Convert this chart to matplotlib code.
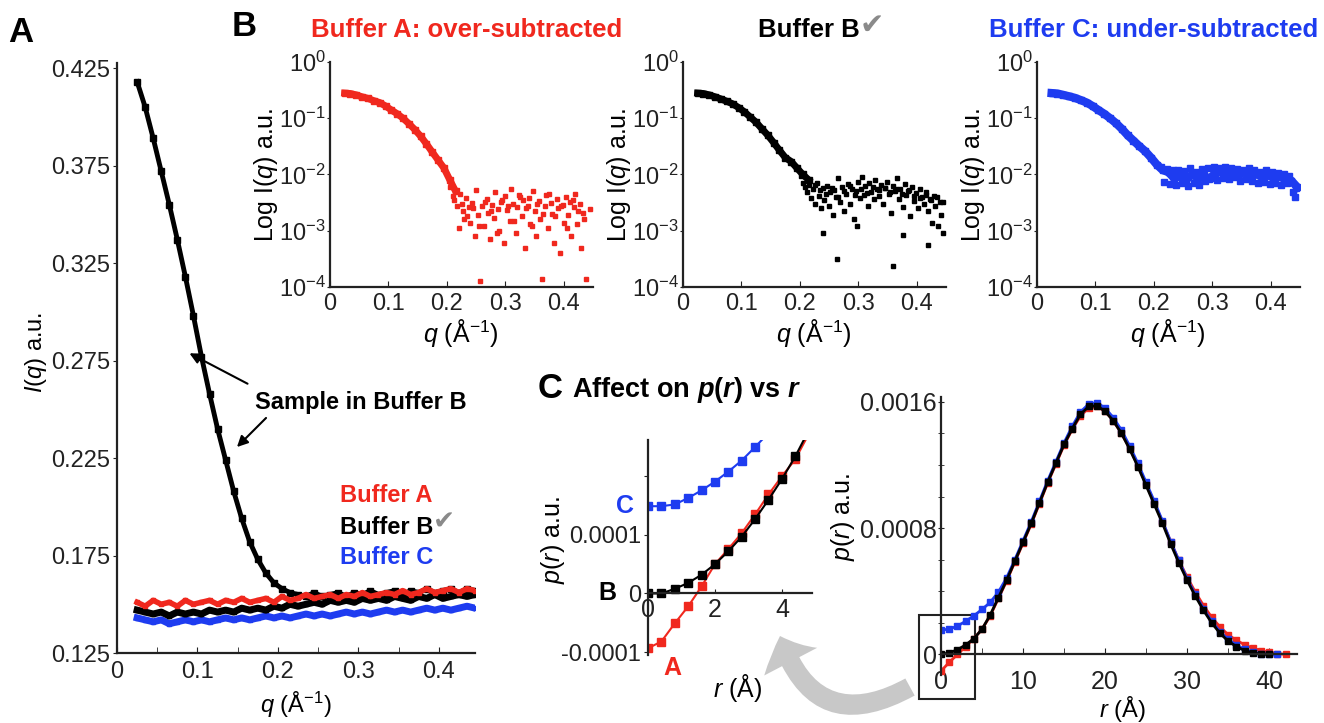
import matplotlib
matplotlib.use("Agg")
import numpy as np
import matplotlib.pyplot as plt
from matplotlib.patches import Rectangle, FancyArrowPatch
from matplotlib.ticker import FuncFormatter, MultipleLocator, NullLocator

W, H = 1324, 723
plt.rcParams['font.family'] = ['Liberation Sans', 'DejaVu Sans']
plt.rcParams['mathtext.fontset'] = 'custom'
plt.rcParams['mathtext.rm'] = 'Liberation Sans'
plt.rcParams['mathtext.it'] = 'Liberation Sans:italic'
plt.rcParams['mathtext.bf'] = 'Liberation Sans:bold'
plt.rcParams['mathtext.bfit'] = 'Liberation Sans:italic:bold'
plt.rcParams['axes.linewidth'] = 1.6
plt.rcParams['axes.edgecolor'] = '#222222'
plt.rcParams['xtick.color'] = '#222222'
plt.rcParams['ytick.color'] = '#222222'

RED = '#f0281e'
BLUE = '#1e3cf0'
GREY = '#8a8a8a'

# ---- data -------------------------------------------------------------
# q grid (1/A) shared by panels A and B
q = [0.025, 0.035, 0.045, 0.055, 0.065, 0.075, 0.085, 0.095, 0.105, 0.115,
     0.125, 0.135, 0.145, 0.155, 0.165, 0.175, 0.185, 0.195, 0.205, 0.215,
     0.225, 0.235, 0.245, 0.255, 0.265, 0.275, 0.285, 0.295, 0.305, 0.315,
     0.325, 0.335, 0.345, 0.355, 0.365, 0.375, 0.385, 0.395, 0.405, 0.415,
     0.425, 0.435, 0.445]

# panel A: raw intensities
sample_raw = [0.418, 0.405, 0.389, 0.372, 0.355, 0.337, 0.318, 0.298, 0.277, 0.258,
              0.240, 0.224, 0.208, 0.194, 0.182, 0.173, 0.166, 0.161, 0.158, 0.156,
              0.155, 0.154, 0.156, 0.154, 0.155, 0.156, 0.154, 0.156, 0.155, 0.157,
              0.155, 0.156, 0.157, 0.155, 0.157, 0.156, 0.158, 0.156, 0.157, 0.158,
              0.156, 0.158, 0.157]
bufA_raw = [0.151, 0.149, 0.152, 0.150, 0.151, 0.149, 0.152, 0.150, 0.151, 0.152,
            0.150, 0.152, 0.151, 0.153, 0.151, 0.152, 0.153, 0.151, 0.154, 0.152,
            0.153, 0.155, 0.153, 0.154, 0.155, 0.153, 0.155, 0.154, 0.156, 0.154,
            0.155, 0.156, 0.155, 0.157, 0.155, 0.156, 0.158, 0.156, 0.157, 0.158,
            0.156, 0.158, 0.157]
bufB_raw = [0.147, 0.146, 0.145, 0.146, 0.144, 0.146, 0.145, 0.146, 0.145, 0.147,
            0.146, 0.147, 0.146, 0.148, 0.147, 0.148, 0.147, 0.149, 0.148, 0.150,
            0.149, 0.150, 0.151, 0.150, 0.152, 0.151, 0.152, 0.151, 0.153, 0.152,
            0.153, 0.152, 0.154, 0.153, 0.152, 0.154, 0.153, 0.155, 0.153, 0.154,
            0.155, 0.154, 0.155]
bufC_raw = [0.143, 0.142, 0.141, 0.142, 0.140, 0.141, 0.142, 0.141, 0.142, 0.141,
            0.142, 0.143, 0.142, 0.143, 0.142, 0.143, 0.144, 0.143, 0.144, 0.143,
            0.144, 0.145, 0.144, 0.145, 0.144, 0.145, 0.146, 0.145, 0.146, 0.145,
            0.146, 0.147, 0.146, 0.147, 0.146, 0.147, 0.148, 0.147, 0.148, 0.147,
            0.148, 0.149, 0.148]

# panel B: subtracted curves
subA = [0.28, 0.275, 0.26, 0.24, 0.225, 0.205, 0.19, 0.165, 0.14, 0.12,
        0.10, 0.08, 0.063, 0.048, 0.035, 0.025, 0.018, 0.013, 0.008, 0.005,
        0.003, 0.0018, 0.0025, 0.0012, 0.0032, 0.0022, 0.0009, 0.0035, 0.0028, 0.0015,
        0.004, 0.0025, 0.0012, 0.003, 0.002, 0.0045, 0.0018, 0.0028, 0.0011, 0.0035,
        0.0022, 0.0016, 0.0024]
subB = [0.28, 0.275, 0.26, 0.24, 0.22, 0.20, 0.18, 0.155, 0.13, 0.105,
        0.085, 0.065, 0.05, 0.037, 0.027, 0.02, 0.017, 0.013, 0.010, 0.008,
        0.0065, 0.0052, 0.0045, 0.0058, 0.0040, 0.0050, 0.0062, 0.0044, 0.0055, 0.0047,
        0.0060, 0.0052, 0.0058, 0.0049, 0.0055, 0.0045, 0.0051, 0.0042, 0.0038, 0.0044,
        0.0035, 0.0040, 0.0032]
subC = [0.28, 0.275, 0.26, 0.245, 0.23, 0.21, 0.19, 0.165, 0.14, 0.12,
        0.10, 0.082, 0.065, 0.05, 0.04, 0.032, 0.026, 0.02, 0.015, 0.012,
        0.011, 0.0085, 0.0095, 0.0080, 0.0100, 0.0088, 0.0096, 0.0084, 0.0105, 0.0112,
        0.0098, 0.0118, 0.0104, 0.0110, 0.0095, 0.0102, 0.0090, 0.0098, 0.0086, 0.0092,
        0.0082, 0.0078, 0.0060]

# extra noisy points at high q
subA_q = [0.205, 0.21, 0.212, 0.218, 0.22, 0.223, 0.228, 0.23, 0.233, 0.238,
          0.24, 0.243, 0.248, 0.25, 0.253, 0.257, 0.26, 0.263, 0.268, 0.27,
          0.273, 0.278, 0.28, 0.283, 0.288, 0.29, 0.293, 0.298, 0.3, 0.303,
          0.308, 0.31, 0.313, 0.318, 0.32, 0.323, 0.328, 0.33, 0.333, 0.338,
          0.34, 0.343, 0.348, 0.35, 0.353, 0.358, 0.36, 0.363, 0.368, 0.37,
          0.373, 0.378, 0.38, 0.383, 0.388, 0.39, 0.393, 0.398, 0.4, 0.403,
          0.408, 0.41, 0.413, 0.418, 0.42, 0.423, 0.428, 0.43, 0.433, 0.438]
subA_i = [0.006, 0.0042, 0.0035, 0.0028, 0.0011, 0.0045, 0.0022, 0.0016, 0.0038, 0.0026,
          0.0014, 0.0031, 0.0008, 0.0052, 0.0019, 0.00013, 0.0027, 0.0012, 0.0036, 0.0021,
          0.0007, 0.0029, 0.0017, 0.0048, 0.0024, 0.0010, 0.0033, 0.0006, 0.0041, 0.0023,
          0.0015, 0.0055, 0.0030, 0.0009, 0.0026, 0.0044, 0.0018, 0.0035, 0.0005, 0.0028,
          0.0039, 0.0013, 0.0050, 0.0022, 0.0008, 0.0034, 0.0016, 0.00014, 0.0027, 0.0043,
          0.0011, 0.0031, 0.0020, 0.0006, 0.0037, 0.0025, 0.0004, 0.0029, 0.0014, 0.0040,
          0.0019, 0.0033, 0.0008, 0.0026, 0.0045, 0.0013, 0.0030, 0.0005, 0.0021, 0.00014]
subB_q = [0.202, 0.206, 0.209, 0.213, 0.216, 0.219, 0.222, 0.226, 0.229, 0.232,
          0.236, 0.239, 0.242, 0.246, 0.249, 0.252, 0.256, 0.259, 0.262, 0.266,
          0.269, 0.272, 0.276, 0.279, 0.282, 0.286, 0.289, 0.292, 0.296, 0.299,
          0.302, 0.306, 0.309, 0.312, 0.316, 0.319, 0.322, 0.326, 0.329, 0.332,
          0.336, 0.339, 0.342, 0.346, 0.349, 0.352, 0.356, 0.359, 0.362, 0.366,
          0.369, 0.372, 0.376, 0.379, 0.382, 0.386, 0.389, 0.392, 0.396, 0.399,
          0.402, 0.406, 0.409, 0.412, 0.416, 0.419, 0.422, 0.426, 0.429, 0.432,
          0.436, 0.439, 0.442, 0.445, 0.24, 0.264, 0.36, 0.298, 0.377, 0.42]
subB_i = [0.0095, 0.0072, 0.0060, 0.0048, 0.0065, 0.0038, 0.0055, 0.0030, 0.0070, 0.0042,
          0.0025, 0.0058, 0.0035, 0.0062, 0.0028, 0.0048, 0.0019, 0.0052, 0.0040, 0.0085,
          0.0033, 0.0060, 0.0022, 0.0045, 0.0068, 0.0030, 0.0055, 0.0016, 0.0050, 0.0075,
          0.0038, 0.0090, 0.0044, 0.0062, 0.0027, 0.0070, 0.0048, 0.0036, 0.0080, 0.0055,
          0.0042, 0.0066, 0.0030, 0.0058, 0.0075, 0.0045, 0.0021, 0.0062, 0.0050, 0.0085,
          0.0037, 0.0056, 0.0026, 0.0068, 0.0044, 0.0052, 0.0018, 0.0060, 0.0034, 0.0047,
          0.0025, 0.0055, 0.0040, 0.0030, 0.0048, 0.0022, 0.0036, 0.0014, 0.0042, 0.0028,
          0.0012, 0.0033, 0.0019, 0.0009, 0.00091, 0.00032, 0.00024, 0.0012, 0.00085, 0.00056]
subC_q = [0.212, 0.218, 0.222, 0.228, 0.232, 0.238, 0.242, 0.248, 0.252, 0.258,
          0.262, 0.268, 0.272, 0.278, 0.282, 0.288, 0.292, 0.298, 0.302, 0.308,
          0.312, 0.318, 0.322, 0.328, 0.332, 0.338, 0.342, 0.348, 0.352, 0.358,
          0.362, 0.368, 0.372, 0.378, 0.382, 0.388, 0.392, 0.398, 0.402, 0.408,
          0.412, 0.418, 0.422, 0.428, 0.432, 0.438, 0.441, 0.443]
subC_i = [0.0135, 0.0075, 0.0125, 0.0068, 0.0118, 0.0065, 0.0122, 0.0070, 0.0115, 0.0062,
          0.0128, 0.0072, 0.0110, 0.0066, 0.0124, 0.0078, 0.0130, 0.0085, 0.0135, 0.0080,
          0.0128, 0.0088, 0.0138, 0.0082, 0.0130, 0.0090, 0.0125, 0.0078, 0.0120, 0.0084,
          0.0132, 0.0076, 0.0118, 0.0070, 0.0112, 0.0074, 0.0120, 0.0068, 0.0110, 0.0072,
          0.0105, 0.0066, 0.0100, 0.0070, 0.0095, 0.0048, 0.0040, 0.0058]

# panel C inset: p(r) near r = 0 (units of 1e-4)
r_zoom = [0, 0.4, 0.8, 1.2, 1.6, 2.0, 2.4, 2.8, 3.2, 3.6, 4.0, 4.4, 4.8]
pA_zoom = [-0.935, -0.82, -0.51, -0.22, 0.12, 0.50, 0.76, 1.03, 1.35, 1.69, 2.00, 2.29, 2.72]
pB_zoom = [0.0, 0.0, 0.08, 0.18, 0.32, 0.50, 0.72, 0.97, 1.27, 1.60, 1.95, 2.34, 2.78]
pC_zoom = [1.49, 1.49, 1.52, 1.63, 1.76, 1.91, 2.08, 2.27, 2.50, 2.74]

# panel C full p(r) (units of 1e-4)
r_full = [0, 1, 2, 3, 4, 5, 6, 7, 8, 9, 10, 11, 12, 13, 14, 15, 16, 17, 18, 19, 20,
          21, 22, 23, 24, 25, 26, 27, 28, 29, 30, 31, 32, 33, 34, 35, 36, 37, 38, 39, 40,
          41, 42]
pA_full = [-1.05, -0.5, 0.0, 0.5, 1.0, 1.6, 2.45, 3.55, 4.65, 5.85, 7.05, 8.25, 9.55, 10.85,
           12.05, 13.25, 14.25, 15.1, 15.6, 15.7, 15.4, 14.8, 14.0, 13.05, 11.95, 10.8, 9.6,
           8.4, 7.15, 5.95, 4.9, 3.95, 3.1, 2.35, 1.75, 1.25, 0.9, 0.62, 0.4, 0.25, 0.14,
           0.06, 0.0]
pB_full = [0.0, 0.1, 0.3, 0.6, 1.0, 1.6, 2.5, 3.6, 4.7, 5.9, 7.1, 8.3, 9.6, 10.9, 12.1,
           13.3, 14.3, 15.2, 15.7, 15.75, 15.4, 14.8, 14.0, 13.0, 11.9, 10.7, 9.5, 8.3, 7.0,
           5.8, 4.7, 3.7, 2.8, 2.0, 1.35, 0.85, 0.5, 0.25, 0.1, 0.02, 0.0]
pC_full = [1.55, 1.6, 1.8, 2.1, 2.45, 2.85, 3.3, 3.95, 4.85, 6.0, 7.2, 8.4, 9.7, 11.0, 12.2,
           13.4, 14.45, 15.35, 15.85, 15.95, 15.6, 15.0, 14.2, 13.2, 12.1, 10.9, 9.7, 8.45,
           7.15, 5.95, 4.8, 3.8, 2.9, 2.1, 1.45, 0.95, 0.6, 0.32, 0.15, 0.06, 0.02, 0.0]


def box(l, t, r, b):
    return [l / W, 1 - b / H, (r - l) / W, (b - t) / H]


def fxy(px, py):
    return (px / W, 1 - py / H)


def plain(v, pos=None):
    return '0' if abs(v) < 1e-12 else f'{v:g}'


fig = plt.figure(figsize=(W / 100, H / 100), dpi=100)

# ---- panel A ----------------------------------------------------------
axA = fig.add_axes(box(117, 63, 475, 653))
axA.plot(q, bufC_raw, color=BLUE, lw=5, marker='s', ms=3)
axA.plot(q, bufB_raw, color='black', lw=5, marker='s', ms=3)
axA.plot(q, sample_raw, color='black', lw=3.5, marker='s', ms=4)
axA.plot(q, bufA_raw, color=RED, lw=4, marker='s', ms=3)
axA.set_xlim(0, 0.445)
axA.set_ylim(0.125, 0.4276)
axA.set_yticks([0.125, 0.175, 0.225, 0.275, 0.325, 0.375, 0.425])
axA.yaxis.set_major_formatter(FuncFormatter(lambda v, p: f'{v:.3f}'))
axA.set_xticks([0, 0.1, 0.2, 0.3, 0.4])
axA.xaxis.set_major_formatter(FuncFormatter(plain))
axA.xaxis.set_minor_locator(MultipleLocator(0.05))
axA.tick_params(axis='x', which='both', direction='in', length=4, labelsize=17, pad=6)
axA.tick_params(axis='y', direction='out', length=3, labelsize=17, pad=2)
for s in ['top', 'right']:
    axA.spines[s].set_visible(False)

fig.text(*fxy(36, 352), '$I$($q$) a.u.', rotation=90, ha='center', va='center', fontsize=17)
fig.text(*fxy(296, 705), '$q$ (Å$^{-1}$)', ha='center', va='center', fontsize=17)
fig.text(*fxy(255, 402), 'Sample in Buffer B', fontsize=17, fontweight='bold', va='center')
axA.annotate('', xy=fxy(187, 352), xytext=fxy(250, 385), xycoords='figure fraction',
             arrowprops=dict(arrowstyle='-|>', color='black', lw=1.5, mutation_scale=16))
axA.annotate('', xy=fxy(235, 449), xytext=fxy(268, 416), xycoords='figure fraction',
             arrowprops=dict(arrowstyle='-|>', color='black', lw=1.5, mutation_scale=16))
fig.text(*fxy(340, 495), 'Buffer A', color=RED, fontsize=17, fontweight='bold', va='center')
tBa = fig.text(*fxy(340, 527), 'Buffer B', color='black', fontsize=17, fontweight='bold', va='center')
fig.text(*fxy(340, 558), 'Buffer C', color=BLUE, fontsize=17, fontweight='bold', va='center')

# ---- panel B ----------------------------------------------------------
b_specs = [
    (330, subA, subA_q, subA_i, RED, True),
    (683, subB, subB_q, subB_i, 'black', True),
    (1037, subC, subC_q, subC_i, BLUE, False),
]
for left, main, xq, xi, col, sparse in b_specs:
    ax = fig.add_axes(box(left, 62, left + 263, 287))
    if sparse:
        ax.plot(q[:20], main[:20], color=col, lw=5, marker='s', ms=4)
        ax.plot(q[20:], main[20:], color=col, lw=0, marker='s', ms=3.5)
        ax.plot(xq, xi, color=col, lw=0, marker='s', ms=3.5)
    else:
        ax.plot(q, main, color=col, lw=6, marker='s', ms=4)
        ax.plot(xq, xi, color=col, lw=0, marker='s', ms=4)
    ax.set_yscale('log')
    ax.set_ylim(1e-4, 1)
    ax.set_xlim(0, 0.45)
    ax.set_yticks([1e-4, 1e-3, 1e-2, 1e-1, 1])
    ax.yaxis.set_minor_locator(NullLocator())
    ax.yaxis.set_major_formatter(FuncFormatter(lambda v, p: '$10^{%d}$' % round(np.log10(v))))
    ax.set_xticks([0, 0.1, 0.2, 0.3, 0.4])
    ax.xaxis.set_major_formatter(FuncFormatter(plain))
    ax.tick_params(axis='x', direction='in', length=4, labelsize=17, pad=4)
    ax.tick_params(axis='y', direction='out', length=2, labelsize=17, pad=1)
    for s in ['top', 'right']:
        ax.spines[s].set_visible(False)
    fig.text(*fxy(left - 64, 175), 'Log I($q$) a.u.', rotation=90, ha='center', va='center', fontsize=18)
    fig.text(*fxy(left + 131, 333), '$q$ (Å$^{-1}$)', ha='center', va='center', fontsize=18)

fig.text(*fxy(467, 30), 'Buffer A: over-subtracted', color=RED, fontsize=18.5,
         fontweight='bold', ha='center', va='center')
tBb = fig.text(*fxy(758, 30), 'Buffer B', color='black', fontsize=18.5, fontweight='bold', va='center')
fig.text(*fxy(1154, 30), 'Buffer C: under-subtracted', color=BLUE, fontsize=18.5,
         fontweight='bold', ha='center', va='center')

# ---- panel C inset ----------------------------------------------------
axI = fig.add_axes(box(648, 440, 812, 655))
axI.plot(r_zoom, np.array(pA_zoom) * 1e-4, color=RED, lw=1.5, marker='s', ms=6)
axI.plot(r_zoom[:len(pC_zoom)], np.array(pC_zoom) * 1e-4, color=BLUE, lw=1.5, marker='s', ms=6)
axI.plot(r_zoom, np.array(pB_zoom) * 1e-4, color='black', lw=1.5, marker='s', ms=6)
axI.set_xlim(0, 4.9)
axI.set_ylim(-1.05e-4, 2.62e-4)
axI.spines['bottom'].set_position(('data', 0))
for s in ['top', 'right']:
    axI.spines[s].set_visible(False)
axI.set_xticks([0, 2, 4])
axI.set_xticklabels(['0', '2', '4'])
axI.set_yticks([-1e-4, 0, 1e-4, 2e-4])
axI.set_yticklabels(['-0.0001', '0', '0.0001', ''])
axI.tick_params(axis='x', direction='in', length=3, labelsize=18, pad=3)
axI.tick_params(axis='y', direction='out', length=3, labelsize=17, pad=2)
axI.text(-0.7, 1.49e-4, 'C', color=BLUE, fontsize=18, fontweight='bold', ha='center', va='center')
axI.text(-1.2, 0, 'B', color='black', fontsize=18, fontweight='bold', ha='center', va='center')
axI.text(0.72, -1.28e-4, 'A', color=RED, fontsize=18, fontweight='bold', ha='center', va='center',
         clip_on=False)
fig.text(*fxy(553, 540), '$p$($r$) a.u.', rotation=90, ha='center', va='center', fontsize=18)
fig.text(*fxy(738, 688), '$r$ (Å)', ha='center', va='center', fontsize=18)

# ---- panel C full p(r) ------------------------------------------------
axP = fig.add_axes(box(941, 397, 1297, 675))
axP.plot(r_full, np.array(pA_full) * 1e-4, color=RED, lw=2, marker='s', ms=4)
axP.plot(r_full[:len(pC_full)], np.array(pC_full) * 1e-4, color=BLUE, lw=2, marker='s', ms=4)
axP.plot(r_full[:len(pB_full)], np.array(pB_full) * 1e-4, color='black', lw=2, marker='s', ms=4)
axP.set_xlim(0, 43.4)
axP.set_ylim(-1.3e-4, 1.63e-3)
axP.spines['bottom'].set_position(('data', 0))
for s in ['top', 'right']:
    axP.spines[s].set_visible(False)
axP.set_xticks([0, 10, 20, 30, 40])
axP.xaxis.set_minor_locator(MultipleLocator(5))
axP.xaxis.set_major_formatter(FuncFormatter(plain))
axP.set_yticks([0, 0.0008, 0.0016])
axP.set_yticklabels(['0', '0.0008', '0.0016'])
axP.yaxis.set_minor_locator(MultipleLocator(0.0002))
axP.tick_params(axis='x', which='both', direction='in', length=4, labelsize=18, pad=11)
axP.tick_params(axis='y', which='both', direction='inout', length=4, labelsize=18, pad=1)
axP.add_patch(Rectangle((-2.7, -2.85e-4), 6.9, 5.38e-4, fill=False, lw=1.5,
                        edgecolor='#222222', clip_on=False))
fig.text(*fxy(843, 517), '$p$($r$) a.u.', rotation=90, ha='center', va='center', fontsize=18)
fig.text(*fxy(1122, 709), '$r$ (Å)', ha='center', va='center', fontsize=17)

# ---- titles, letters, arrow --------------------------------------------
fig.text(*fxy(8, 33), 'A', fontsize=25, fontweight='bold', va='center')
fig.text(*fxy(232, 26), 'B', fontsize=25, fontweight='bold', va='center')
fig.text(*fxy(538, 389), 'C', fontsize=25, fontweight='bold', va='center')
fig.text(*fxy(572, 390), r'Affect on $\mathbfit{p}$($\mathbfit{r}$) vs $\mathbfit{r}$',
         fontsize=19.5, fontweight='bold', va='center')

arrow = FancyArrowPatch(fxy(910, 687), fxy(780, 636), transform=fig.transFigure,
                        connectionstyle='arc3,rad=-0.6',
                        arrowstyle='simple,head_width=4.3,head_length=2.0,tail_width=1.4',
                        mutation_scale=10, color='#c8c8c8', lw=0, shrinkA=0, shrinkB=0)
fig.add_artist(arrow)

# check marks after "Buffer B"
fig.canvas.draw()
rend = fig.canvas.get_renderer()
for t, size in [(tBa, 19), (tBb, 21)]:
    bb = t.get_window_extent(rend)
    fig.text(bb.x1 / W, (bb.y0 + bb.y1) / 2 / H + 0.006, '✔', color=GREY, fontsize=size,
             family='DejaVu Sans', va='center')

fig.savefig('out.png', dpi=100)
